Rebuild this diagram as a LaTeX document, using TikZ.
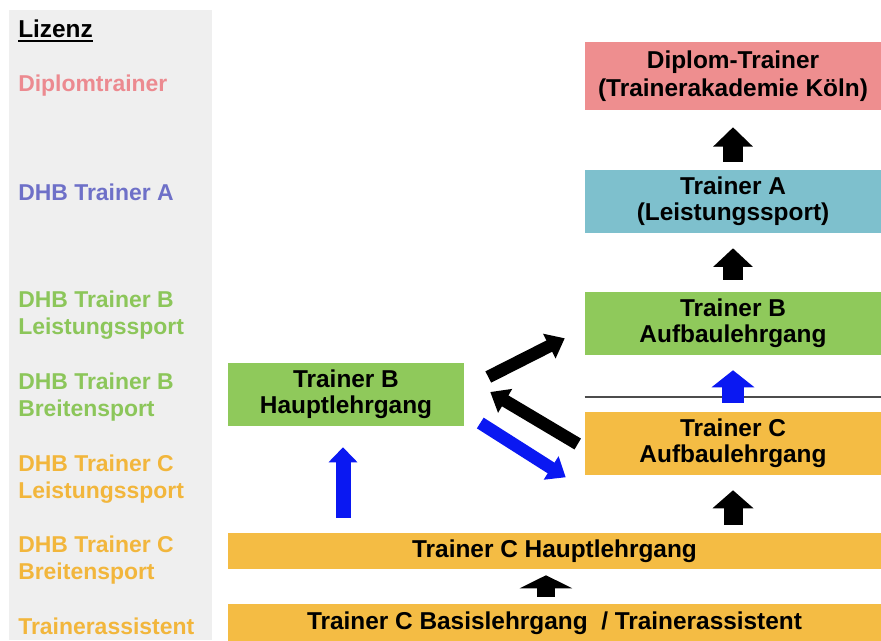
\documentclass[tikz,border=0pt]{standalone}
\usepackage{fontspec}
\setmainfont{Liberation Sans}
\usetikzlibrary{arrows.meta,calc}
\definecolor{panelgray}{HTML}{EFEFEF}
\definecolor{pinkf}{HTML}{EE8E8F}
\definecolor{tealf}{HTML}{7EC0CD}
\definecolor{greenf}{HTML}{8FC95B}
\definecolor{orangef}{HTML}{F4BC44}
\definecolor{pinkl}{HTML}{EC8A90}
\definecolor{bluel}{HTML}{6E70C8}
\definecolor{greenl}{HTML}{8CC65A}
\definecolor{orangel}{HTML}{F2B63C}
\definecolor{arrblue}{HTML}{0A18F2}
\tikzset{
  box/.style={rectangle, inner sep=0pt, align=center,
    font=\bfseries\fontsize{18.3}{19.5}\selectfont},
  lic/.style={anchor=west, inner sep=0pt, align=left,
    font=\bfseries\fontsize{17.2}{20.25}\selectfont},
  blk/.style={draw=black, line width=#1},
  blk/.default=15pt,
}
\begin{document}
\begin{tikzpicture}[x=0.75pt, y=-0.75pt]
\useasboundingbox (0,0) rectangle (881,640);
\fill[white] (0,0) rectangle (881,640);
% left panel
\fill[panelgray] (9,10) rectangle (212,640);
\node[anchor=base west, inner sep=0pt, font=\bfseries\fontsize{18.3}{20}\selectfont] (liz) at (18,37) {Lizenz};
\draw[line width=1.4pt] ([yshift=-3pt]liz.base west) -- ([yshift=-3pt]liz.base east);
\node[lic, text=pinkl] (l1) at (18,86) {Diplomtrainer};
\node[lic, text=bluel] (l2) at (18,192) {DHB Trainer A};
\node[lic, text=greenl] (l3) at (18,315.5) {DHB Trainer B\\Leistungssport};
\node[lic, text=greenl] (l4) at (18,397.5) {DHB Trainer B\\Breitensport};
\node[lic, text=orangel] (l5) at (18,479.5) {DHB Trainer C\\Leistungssport};
\node[lic, text=orangel] (l6) at (18,560.5) {DHB Trainer C\\Breitensport};
\node[lic, text=orangel] (l7) at (18,626) {Trainerassistent};
% boxes
\node[box, fill=pinkf, minimum width=222pt, minimum height=51pt,
  font=\bfseries\fontsize{18.3}{21}\selectfont] (D) at (733,76) {Diplom-Trainer\\(Trainerakademie Köln)};
\node[box, fill=tealf, minimum width=222pt, minimum height=47.25pt] (A) at (733,201.5) {Trainer A\\(Leistungssport)};
\node[box, fill=greenf, minimum width=222pt, minimum height=47.25pt] (BA) at (733,323.5) {Trainer B\\Aufbaulehrgang};
\node[box, fill=orangef, minimum width=222pt, minimum height=47.25pt] (CA) at (733,443.5) {Trainer C\\Aufbaulehrgang};
\node[box, fill=greenf, minimum width=177pt, minimum height=47.25pt] (BH) at (346,394.5) {Trainer B\\Hauptlehrgang};
\node[box, fill=orangef, minimum width=489.75pt, minimum height=27pt] (CH) at (554.5,551) {Trainer C Hauptlehrgang};
\node[box, fill=orangef, minimum width=489.75pt, minimum height=29.25pt] (CB) at (554.5,623.5) {Trainer C Basislehrgang~~/ Trainerassistent};
% separator line
\draw[black!70, line width=1.4pt] ($(CA.north west)+(0,-14.5)$) -- ($(CA.north east)+(0,-14.5)$);
% vertical arrows
\draw[blk=15pt, -{Triangle[width=29pt,length=14.5pt]}, shorten <=6pt, shorten >=12.75pt] (A.north) -- (D.south);
\draw[blk=15pt, -{Triangle[width=29pt,length=14pt]}, shorten <=9pt, shorten >=11.25pt] (BA.north) -- (A.south);
\draw[blk=16.5pt, draw=arrblue, -{Triangle[width=31.5pt,length=12.75pt]}, shorten <=6.75pt, shorten >=11.25pt] (CA.north) -- (BA.south);
\draw[blk=14.25pt, -{Triangle[width=30pt,length=13.5pt]}, shorten <=6pt, shorten >=11.25pt] (CA.south |- CH.north) -- (CA.south);
\draw[blk=13.5pt, -{Triangle[width=39pt,length=9.75pt]}, shorten <=5.25pt, shorten >=4.5pt] ([xshift=-6.4pt]CB.north) -- ([xshift=-6.4pt]CH.south);
\draw[blk=11.25pt, draw=arrblue, -{Triangle[width=21pt,length=11.25pt]}, shorten <=11.25pt, shorten >=15.75pt] ([xshift=-2.25pt]BH.south |- CH.north) -- ([xshift=-2.25pt]BH.south);
% diagonal arrows
\coordinate (t1) at ($(BH.east)+(24,-17.5)$);
\coordinate (h1) at ($(BA.south west)+(-20,-17)$);
\coordinate (t2) at ($(CA.west)+(-7,0.5)$);
\coordinate (h2) at ($(BH.east)+(26,-2.5)$);
\coordinate (t3) at ($(BH.east)+(16,28.5)$);
\coordinate (h3) at ($(CA.south west)+(-19,2)$);
\draw[blk=9.5pt, -{Triangle[width=20pt,length=13pt]}] (t1) -- (h1);
\draw[blk=9.5pt, -{Triangle[width=20pt,length=13pt]}] (t2) -- (h2);
\draw[blk=9.5pt, draw=arrblue, -{Triangle[width=20pt,length=13pt]}] (t3) -- (h3);
\end{tikzpicture}
\end{document}
